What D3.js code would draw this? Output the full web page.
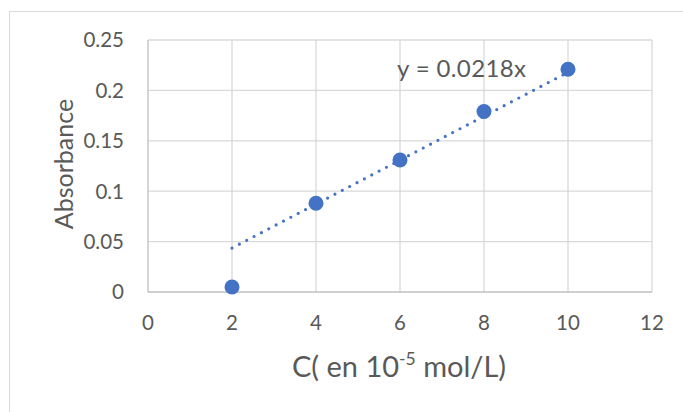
<!DOCTYPE html>
<html><head><meta charset="utf-8">
<script src="https://cdn.jsdelivr.net/npm/d3@7"></script>
<style>body{margin:0;background:#fff;}svg{display:block;}</style>
</head><body>
<svg id="c" width="683" height="412"></svg>
<script>
const concentrations = [2, 4, 6, 8, 10];
const absorbances = [0.005, 0.088, 0.131, 0.179, 0.221];
const slope = 0.0218;
const xTicks = [0, 2, 4, 6, 8, 10, 12];
const yTicks = [0, 0.05, 0.1, 0.15, 0.2, 0.25];
const yTickLabels = ["0", "0.05", "0.1", "0.15", "0.2", "0.25"];
const equationLabel = "y = 0.0218x";
const xTitle = ["C( en 10", "-5", " mol/L)"];
const yTitle = "Absorbance";

const svg = d3.select("#c");
const font = "Lato, 'Open Sans', sans-serif";
const blue = "#4472C4";
const textCol = "#595959";

// chart frame
svg.append("rect").attr("x", 9.5).attr("y", 11.5).attr("width", 700).attr("height", 420)
  .attr("fill", "none").attr("stroke", "#d9d9d9").attr("stroke-width", 1);

const x = d3.scaleLinear().domain([0, 12]).range([148, 652]);
const y = d3.scaleLinear().domain([0, 0.25]).range([292, 40]);

// gridlines
const g = svg.append("g");
g.selectAll("line.h").data(yTicks.filter(d => d > 0)).join("line")
  .attr("x1", x(0)).attr("x2", x(12))
  .attr("y1", d => y(d)).attr("y2", d => y(d))
  .attr("stroke", "#d9d9d9").attr("stroke-width", 1.3);
g.selectAll("line.v").data(xTicks.filter(d => d > 0)).join("line")
  .attr("y1", y(0)).attr("y2", y(0.25))
  .attr("x1", d => x(d)).attr("x2", d => x(d))
  .attr("stroke", "#d9d9d9").attr("stroke-width", 1.3);
// axes lines
svg.append("line").attr("x1", x(0)).attr("x2", x(12)).attr("y1", y(0)).attr("y2", y(0))
  .attr("stroke", "#bfbfbf").attr("stroke-width", 1.3);
svg.append("line").attr("x1", x(0)).attr("x2", x(0)).attr("y1", y(0)).attr("y2", y(0.25))
  .attr("stroke", "#bfbfbf").attr("stroke-width", 1.3);

// tick labels
svg.selectAll("text.yt").data(yTicks).join("text")
  .attr("x", 124).attr("y", d => y(d)).attr("dy", "0.36em")
  .attr("text-anchor", "end").attr("font-family", font).attr("font-size", 20.5)
  .attr("fill", textCol).text((d, i) => yTickLabels[i]);
svg.selectAll("text.xt").data(xTicks).join("text")
  .attr("x", d => x(d)).attr("y", 323).attr("dy", "0.36em")
  .attr("text-anchor", "middle").attr("font-family", font).attr("font-size", 20.5)
  .attr("fill", textCol).text(d => d);

// trendline
const line = d3.line().x(d => x(d)).y(d => y(slope * d));
svg.append("path").datum([concentrations[0], concentrations[concentrations.length - 1]])
  .attr("d", line).attr("fill", "none").attr("stroke", blue)
  .attr("stroke-width", 3.2).attr("stroke-linecap", "round").attr("stroke-dasharray", "0 8.3");

// points
svg.selectAll("circle").data(concentrations).join("circle")
  .attr("cx", d => x(d)).attr("cy", (d, i) => y(absorbances[i])).attr("r", 7.5)
  .attr("fill", blue);

// equation
svg.append("text").attr("x", 397).attr("y", 77).attr("font-family", font).attr("font-size", 24)
  .attr("textLength", 129).attr("lengthAdjust", "spacing")
  .attr("fill", textCol).text(equationLabel);

// axis titles
const xt = svg.append("text").attr("x", 292).attr("y", 377).attr("text-anchor", "start")
  .attr("font-family", font).attr("font-size", 29).attr("fill", textCol);
xt.append("tspan").text(xTitle[0]);
xt.append("tspan").attr("font-size", 17.5).attr("dy", -12).text(xTitle[1]);
xt.append("tspan").attr("dy", 12).text(xTitle[2]);

svg.append("text").attr("transform", "translate(73,164) rotate(-90)").attr("text-anchor", "middle")
  .attr("font-family", font).attr("font-size", 25).attr("fill", textCol).text(yTitle);
</script>
</body></html>
